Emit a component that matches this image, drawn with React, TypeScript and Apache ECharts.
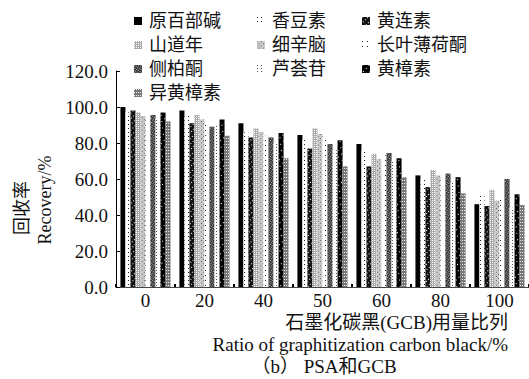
import React, { useEffect, useRef } from "react";
import * as echarts from "echarts";

const categories = ["0", "20", "40", "50", "60", "80", "100"];
const yTicks = [0, 20, 40, 60, 80, 100, 120];

const s原百部碱 = [100, 98, 91, 84.5, 79.5, 62, 46];
const s香豆素 = [97, 95, 86, 82, 76, 60, 52];
const s黄连素 = [98, 91, 83, 77, 67, 55.5, 45];
const s山道年 = [97, 95.5, 88, 88, 74, 65, 54];
const s细辛脑 = [95, 93, 86, 85, 71, 62, 48];
const s长叶薄荷酮 = [93, 90, 84, 83, 73, 60, 50];
const s侧柏酮 = [95.5, 89, 83, 79.5, 74.5, 63, 60];
const s芦荟苷 = [94, 90, 80, 76, 70, 58, 44];
const s黄樟素 = [97, 93, 85.5, 81.5, 71.5, 61, 51.5];
const s异黄樟素 = [92, 84, 71.5, 67, 61, 52, 45.5];

const seriesNames = ["原百部碱", "香豆素", "黄连素", "山道年", "细辛脑", "长叶薄荷酮", "侧柏酮", "芦荟苷", "黄樟素", "异黄樟素"];
const seriesValues = [s原百部碱, s香豆素, s黄连素, s山道年, s细辛脑, s长叶薄荷酮, s侧柏酮, s芦荟苷, s黄樟素, s异黄樟素];

const legendCol1 = ["原百部碱", "山道年", "侧柏酮", "异黄樟素"];
const legendCol2 = ["香豆素", "细辛脑", "芦荟苷"];
const legendCol3 = ["黄连素", "长叶薄荷酮", "黄樟素"];

const FONT = "'Liberation Serif', 'Noto Sans CJK SC', serif";

const styles: any[] = [
  { color: "#000", decal: { symbol: "none" } },
  { color: "#fff", decal: { symbol: "rect", color: "#222", symbolSize: 1, dashArrayX: [1, 3], dashArrayY: [1, 3] } },
  { color: "#111", decal: { symbol: "rect", color: "#fff", symbolSize: 1, dashArrayX: [1, 2], dashArrayY: [1, 3] } },
  { color: "#aaa", decal: { symbol: "rect", color: "#fff", symbolSize: 1, dashArrayX: [1, 1], dashArrayY: [1, 1] } },
  { color: "#ccc", decal: { symbol: "rect", color: "#555", symbolSize: 1, dashArrayX: [1, 2], dashArrayY: [1, 2] } },
  { color: "#fff", decal: { symbol: "rect", color: "#222", symbolSize: 1, dashArrayX: [1, 4], dashArrayY: [1, 4] } },
  { color: "#333", decal: { symbol: "rect", color: "#bbb", symbolSize: 1, dashArrayX: [1, 1], dashArrayY: [1, 1] } },
  { color: "#fff", decal: { symbol: "rect", color: "#555", symbolSize: 1, dashArrayX: [1, 3], dashArrayY: [1, 2] } },
  { color: "#000", decal: { symbol: "rect", color: "#fff", symbolSize: 1, dashArrayX: [1, 3], dashArrayY: [1, 4] } },
  { color: "#777", decal: { symbol: "rect", color: "#eee", symbolSize: 1, dashArrayX: [1, 1], dashArrayY: [1, 2] } },
];

function legendFor(data: string[], left: number) {
  return {
    orient: "vertical",
    left,
    top: 6,
    itemWidth: 8,
    itemHeight: 8,
    itemGap: 4,
    icon: "rect",
    selectedMode: false,
    data,
    textStyle: { fontFamily: FONT, fontSize: 18, color: "#111", lineHeight: 20, padding: [0, 0, 0, 2] },
  };
}

export default function App() {
  const ref = useRef<HTMLDivElement>(null);
  useEffect(() => {
    if (!ref.current) return;
    const chart = echarts.init(ref.current, undefined, { renderer: "svg" });
    chart.setOption({
      animation: false,
      aria: { enabled: true, decal: { show: true } },
      backgroundColor: "#fff",
      legend: [legendFor(legendCol1, 129), legendFor(legendCol2, 252), legendFor(legendCol3, 357)],
      grid: { left: 116, right: 0, top: 71, bottom: 92, containLabel: false },
      xAxis: {
        type: "category",
        data: categories,
        axisLine: { show: true, lineStyle: { color: "#444", width: 1 } },
        axisTick: { show: true, inside: true, length: 3, lineStyle: { color: "#000", width: 2 } },
        axisLabel: { fontFamily: FONT, fontSize: 19, color: "#111", margin: 4 },
      },
      yAxis: {
        type: "value",
        min: yTicks[0],
        max: yTicks[yTicks.length - 1],
        interval: 20,
        splitLine: { show: false },
        axisLine: { show: true, lineStyle: { color: "#000", width: 1 } },
        axisTick: { show: true, inside: true, length: 4, lineStyle: { color: "#000" } },
        axisLabel: { fontFamily: FONT, fontSize: 19, color: "#111", margin: 8, formatter: (v: number) => v.toFixed(1) },
      },
      series: seriesNames.map((name, i) => ({
        name,
        type: "bar",
        data: seriesValues[i],
        barGap: "0%",
        barCategoryGap: "15%",
        itemStyle: styles[i],
      })),
      graphic: [
        { type: "text", x: 22, y: 208, rotation: Math.PI / 2, style: { text: "回收率", font: `18px ${FONT}`, fill: "#111", textAlign: "center", textVerticalAlign: "middle" } },
        { type: "text", x: 45, y: 200, rotation: Math.PI / 2, style: { text: "Recovery/%", font: `18px ${FONT}`, fill: "#111", textAlign: "center", textVerticalAlign: "middle" } },
        { type: "text", x: 508, y: 322, style: { text: "石墨化碳黑(GCB)用量比列", font: `19px ${FONT}`, fill: "#111", textAlign: "right", textVerticalAlign: "middle" } },
        { type: "text", x: 508, y: 344, style: { text: "Ratio of graphitization carbon black/%", font: `19px ${FONT}`, fill: "#111", textAlign: "right", textVerticalAlign: "middle" } },
        { type: "text", x: 324, y: 366, style: { text: "（b） PSA和GCB", font: `19px ${FONT}`, fill: "#111", textAlign: "center", textVerticalAlign: "middle" } },
      ],
    });
    return () => chart.dispose();
  }, []);
  return <div ref={ref} style={{ position: "fixed", left: 0, top: 0, width: 529, height: 379 }} />;
}
